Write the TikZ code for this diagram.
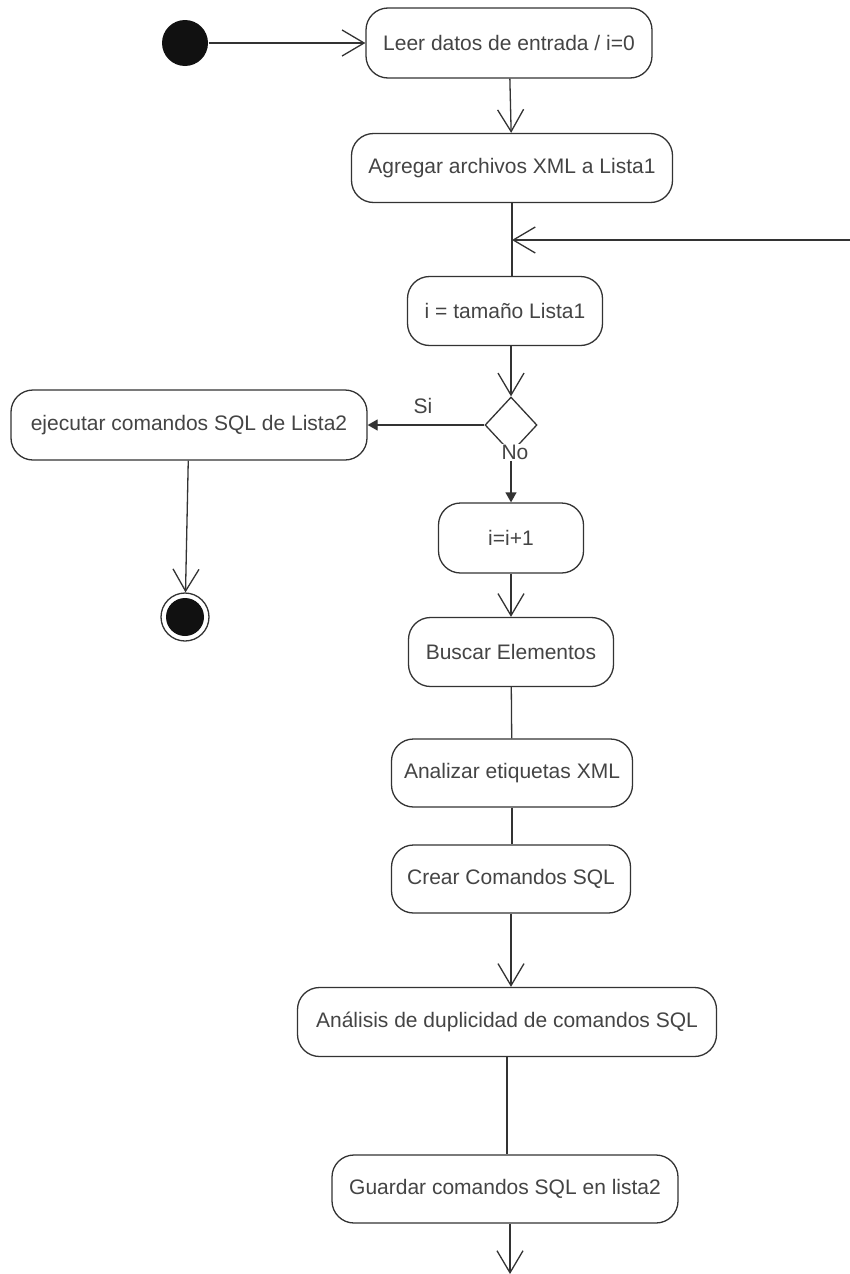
\documentclass[tikz,border=0pt]{standalone}
\usepackage{fontspec}
\setmainfont{Liberation Sans}
\usetikzlibrary{arrows.meta,shapes.geometric}
\definecolor{linea}{HTML}{333333}
\definecolor{texto}{HTML}{444444}
\definecolor{relleno}{HTML}{111111}

\begin{document}
\begin{tikzpicture}[x=1pt,y=-1pt,line width=1.3pt,draw=linea,
            font=\fontsize{21}{24}\selectfont,text=texto,
            act/.style={draw,rounded corners=22pt,minimum height=69pt,inner sep=0pt},
            abierta/.style={-{Straight Barb[length=22pt,width=26pt]}},
            llena/.style={-{Triangle[length=10pt,width=11pt]}}]
                \useasboundingbox[fill=white] (0,0) rectangle (850,1274);
                \node(ini) at (185, 43) [circle,fill=relleno,minimum size=46pt,inner sep=0pt] {};
                \node(leer) at (509, 43) [act,minimum width=286pt,minimum height=70pt] {Leer datos de entrada / i=0};
                \node(agregar) at (512, 168) [act,minimum width=321pt] {Agregar archivos XML a Lista1};
                \node(tam) at (505, 311) [act,minimum width=195pt] {i = tamaño Lista1};
                \node(dec) at (511, 425) [diamond,draw,minimum width=52pt,minimum height=56pt,inner sep=0pt] {};
                \node(si) at (423, 406) {Si};
                \node(no) at (515, 452) [fill=white,inner sep=1pt] {No};
                \node(ejec) at (189, 425) [act,minimum width=356pt,minimum height=70pt] {ejecutar comandos SQL de Lista2};
                \node(fin) at (185, 617) [circle,draw,minimum size=48pt,inner sep=0pt] {};
                \fill[relleno] (fin.center) circle (19);
                \node(inc) at (511, 538) [act,minimum width=145pt,minimum height=70pt] {i=i+1};
                \node(buscar) at (511, 652) [act,minimum width=205pt] {Buscar Elementos};
                \node(analizar) at (512, 773) [act,minimum width=241pt,minimum height=68pt] {Analizar etiquetas XML};
                \node(crear) at (511, 879) [act,minimum width=239pt,minimum height=68pt] {Crear Comandos SQL};
                \node(dupl) at (507, 1022) [act,minimum width=419pt] {Análisis de duplicidad de comandos SQL};
                \node(guardar) at (505, 1189) [act,minimum width=346pt,minimum height=68pt] {Guardar comandos SQL en lista2};
                \coordinate(vuelta) at (850, 240);
                \coordinate(sigue) at (510, 1274);
                \draw[abierta] (ini) -- (leer);
                \draw[abierta] (leer) -- (agregar);
                \draw (agregar.south) -- (agregar.south |- tam.north);
                \draw[abierta] (vuelta) -- (vuelta -| agregar.south);
                \draw[abierta] (dec.north |- tam.south) -- (dec.north);
                \draw[llena] (dec.west) -- (ejec.east);
                \draw[llena] (inc.north |- no.south) -- (inc.north);
                \draw[abierta] (ejec) -- (fin);
                \draw[abierta] (inc) -- (buscar);
                \draw (buscar) -- (analizar);
                \draw (analizar.south) -- (analizar.south |- crear.north);
                \draw[abierta] (crear.south) -- (crear.south |- dupl.north);
                \draw (dupl.south) -- (dupl.south |- guardar.north);
                \draw[abierta] (guardar.south -| sigue) -- (sigue);
        \end{tikzpicture}
\end{document}
